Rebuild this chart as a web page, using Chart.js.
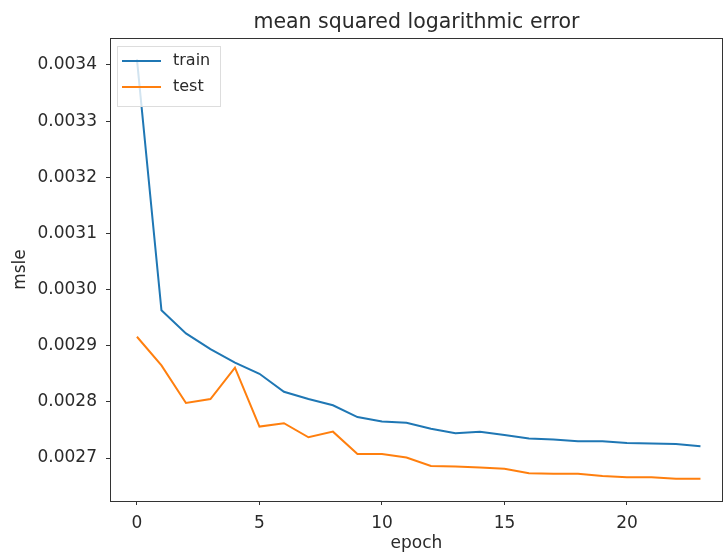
<!DOCTYPE html>
<html>
<head>
<meta charset="utf-8">
<script src="https://cdn.jsdelivr.net/npm/chart.js@4/dist/chart.umd.min.js"></script>
<style>
  html, body { margin: 0; padding: 0; background: #fff; }
  #wrap { width: 725px; height: 554px; }
</style>
</head>
<body>
<div id="wrap"><canvas id="msleChart" width="725" height="554"></canvas></div>
<script>
// valores
const epochs = [0, 1, 2, 3, 4, 5, 6, 7, 8, 9, 10, 11, 12, 13, 14, 15, 16, 17, 18, 19, 20, 21, 22, 23];
const trainMsle = [0.003410, 0.002963, 0.002922, 0.002894, 0.002870, 0.002850, 0.002818, 0.002805,
    0.002794, 0.002773, 0.002765, 0.002763, 0.002752, 0.002744, 0.002747, 0.002741, 0.002735,
    0.002733, 0.002730, 0.002730, 0.002727, 0.002726, 0.002725, 0.002721];
const testMsle = [0.002916, 0.002865, 0.002798, 0.002805, 0.002861, 0.002756, 0.002762, 0.002737,
    0.002747, 0.002707, 0.002707, 0.002701, 0.002686, 0.002685, 0.002683, 0.002681, 0.002673,
    0.002672, 0.002672, 0.002668, 0.002666, 0.002666, 0.002663, 0.002663];
const xTicks = [0, 5, 10, 15, 20];
const yTicks = [0.0027, 0.0028, 0.0029, 0.0030, 0.0031, 0.0032, 0.0033, 0.0034];
const chartTitle = 'mean squared logarithmic error';

const FONT = 'DejaVu Sans';
const AXIS_COLOR = '#333';
const TEXT_COLOR = '#2a2a2a';

// título centrado na área do gráfico, moldura e legenda (estilo matplotlib)
const frameAndLegend = {
    id: 'frameAndLegend',
    afterDraw(chart) {
        const { ctx, chartArea } = chart;
        ctx.save();

        ctx.fillStyle = TEXT_COLOR;
        ctx.font = '20.5px ' + FONT;
        ctx.textAlign = 'center';
        ctx.textBaseline = 'alphabetic';
        ctx.fillText(chartTitle, (chartArea.left + chartArea.right) / 2, 28);

        ctx.strokeStyle = AXIS_COLOR;
        ctx.lineWidth = 1;
        ctx.strokeRect(chartArea.left + 0.5, chartArea.top + 0.5,
            chartArea.right - chartArea.left - 1, chartArea.bottom - chartArea.top);

        // caixa da legenda
        const bx = chartArea.left + 7, by = chartArea.top + 8;
        const bw = 103, bh = 60;
        ctx.fillStyle = 'rgba(255,255,255,0.8)';
        ctx.strokeStyle = '#ddd';
        ctx.fillRect(bx, by, bw, bh);
        ctx.strokeRect(bx + 0.5, by + 0.5, bw, bh);

        ctx.font = '16px ' + FONT;
        ctx.textAlign = 'left';
        ctx.textBaseline = 'middle';
        chart.data.datasets.forEach((ds, i) => {
            const y = by + 15 + i * 26;
            ctx.strokeStyle = ds.borderColor;
            ctx.lineWidth = 2;
            ctx.beginPath();
            ctx.moveTo(bx + 5, y);
            ctx.lineTo(bx + 44, y);
            ctx.stroke();
            ctx.fillStyle = TEXT_COLOR;
            ctx.fillText(ds.label, bx + 56, y);
        });
        ctx.restore();
    }
};

function renderChart() {
    const ctx = document.getElementById('msleChart').getContext('2d');
    new Chart(ctx, {
        type: 'line',
        data: {
            labels: epochs,
            datasets: [
                {
                    label: 'train',
                    data: epochs.map((e, i) => ({ x: e, y: trainMsle[i] })),
                    borderColor: '#1f77b4',
                    borderWidth: 2,
                    pointRadius: 0,
                    tension: 0
                },
                {
                    label: 'test',
                    data: epochs.map((e, i) => ({ x: e, y: testMsle[i] })),
                    borderColor: '#ff7f0e',
                    borderWidth: 2,
                    pointRadius: 0,
                    tension: 0
                }
            ]
        },
        options: {
            responsive: false,
            animation: false,
            layout: { padding: { left: 0, right: 2, top: 38, bottom: 0 } },
            plugins: {
                legend: { display: false },
                tooltip: { enabled: false },
                title: { display: false }
            },
            scales: {
                x: {
                    type: 'linear',
                    min: -1.1,
                    max: 23.92,
                    afterBuildTicks: scale => { scale.ticks = xTicks.map(v => ({ value: v })); },
                    afterFit: scale => { scale.height = 53; },
                    grid: { display: true, drawOnChartArea: false, drawTicks: true, tickLength: 4, color: AXIS_COLOR },
                    border: { display: false },
                    ticks: { color: TEXT_COLOR, font: { family: FONT, size: 17 }, padding: 8, maxRotation: 0 },
                    title: { display: true, text: 'epoch', color: TEXT_COLOR, font: { family: FONT, size: 17 }, padding: { top: 0, bottom: 0 } }
                },
                y: {
                    min: 0.0026235,
                    max: 0.003448,
                    afterBuildTicks: scale => { scale.ticks = yTicks.map(v => ({ value: v })); },
                    afterFit: scale => { scale.width = 110; },
                    grid: { display: true, drawOnChartArea: false, drawTicks: true, tickLength: 4, color: AXIS_COLOR },
                    border: { display: false },
                    ticks: {
                        color: TEXT_COLOR,
                        font: { family: FONT, size: 17 },
                        padding: 9,
                        callback: v => v.toFixed(4)
                    },
                    title: { display: true, text: 'msle', color: TEXT_COLOR, font: { family: FONT, size: 17 }, padding: { top: 10, bottom: 4 } }
                }
            }
        },
        plugins: [frameAndLegend]
    });
}

document.addEventListener('DOMContentLoaded', renderChart);
</script>
</body>
</html>
